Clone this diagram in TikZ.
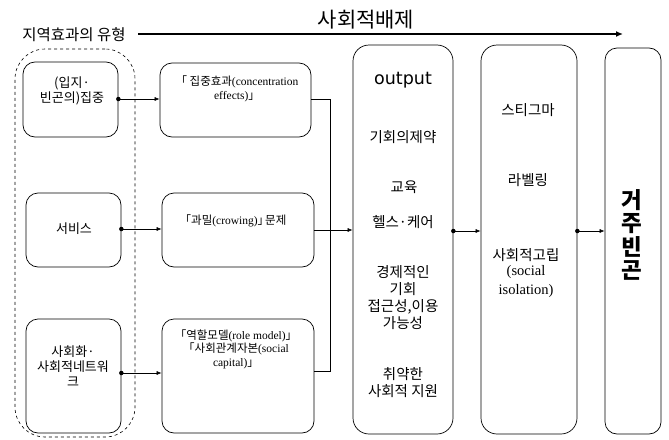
\documentclass[tikz,border=0pt]{standalone}
\usepackage{fontspec}
\setmainfont{Noto Sans CJK KR}
\newfontfamily\serfont{Liberation Serif}
\newfontfamily\outfont{DejaVu Sans}
\usetikzlibrary{arrows.meta}
\newcommand{\se}[1]{{\serfont #1}}
\begin{document}
\begin{tikzpicture}[x=1pt,y=-1pt,
  box/.style={draw,line width=0.7pt,rounded corners=12pt,inner sep=0pt},
  tallbox/.style={draw,line width=0.7pt,rounded corners=16pt,inner sep=0pt},
  lbl/.style={inner sep=0pt,align=center,font=\fontsize{13}{15}\selectfont},
  mlbl/.style={inner sep=0pt,align=center,font=\fontsize{11.5}{13.5}\selectfont},
  blbl/.style={inner sep=0pt,align=center,font=\fontsize{14.5}{17}\selectfont},
  conn/.style={line width=0.6pt},
  arr/.style={line width=0.6pt,-{Latex[length=5pt,width=4pt]}},
  dot/.style={circle,fill,inner sep=0pt,minimum size=4.5pt}
]
\useasboundingbox (0,0) rectangle (669,439);
\fill[white] (0,0) rectangle (669,439);

% top
\node[inner sep=0pt,font=\fontsize{15.5}{17}\selectfont] (typ) at (74,35) {지역효과의 유형};
\node[inner sep=0pt,font=\fontsize{21}{23}\selectfont] (excl) at (366,20) {사회적배제};
\coordinate (tend) at (623,34);
\draw[line width=1.8pt,-{Latex[length=7pt,width=6pt]}] (138,34) coordinate (tstart) -- (tend);

% dashed container
\node[draw,dashed,line width=0.6pt,rounded corners=30pt,minimum width=120pt,minimum height=388pt] (cont) at (75,243) {};

% left boxes
\node[box,minimum width=95pt,minimum height=75pt] (b1) at (70.5,99.5) {};
\node[box,minimum width=95pt,minimum height=74pt] (b2) at (73.5,230) {};
\node[box,minimum width=95pt,minimum height=114pt] (b3) at (73.5,376) {};
\node[lbl] (t1) at (72,91) {(입지·\\빈곤의)집중};
\node[lbl] (t2) at (74,229) {서비스};
\node[lbl] (t3) at (73,366) {사회화·\\사회적네트워\\크};

% middle boxes
\node[box,minimum width=151pt,minimum height=74pt] (m1) at (235.5,100) {};
\node[box,minimum width=152pt,minimum height=74pt] (m2) at (238,230) {};
\node[box,minimum width=152pt,minimum height=114pt] (m3) at (238,376) {};
\node[mlbl] (u1) at (237,89) {「 집중효과\se{(concentration}\\\se{effects)}」};
\node[mlbl] (u2) at (233,221) {「과밀\se{(crowing)}」\hspace{-4pt}문제};
\node[mlbl] (u3) at (236,349) {「역할모델\se{(role model)}」\\「사회관계자본\se{(social}\\\se{capital)}」};

% tall boxes
\node[tallbox,minimum width=100pt,minimum height=389pt] (o) at (403,239.5) {};
\node[tallbox,minimum width=96pt,minimum height=389pt] (s) at (529,239.5) {};
\node[tallbox,rounded corners=12pt,minimum width=56pt,minimum height=386pt] (g) at (633,241) {};

\node[inner sep=0pt,font=\outfont\fontsize{17.5}{19}\selectfont] (ot) at (403,80) {output};
\node[blbl] (o1) at (403,137) {기회의제약};
\node[blbl] (o2) at (404,187) {교육};
\node[blbl] (o3) at (403,222) {헬스·케어};
\node[blbl] (o4) at (403,298) {경제적인\\기회\\접근성,이용\\가능성};
\node[blbl] (o5) at (403,383) {취약한\\사회적 지원};

\node[blbl] (s1) at (528,110) {스티그마};
\node[blbl] (s2) at (528,180) {라벨링};
\node[blbl] (s3) at (526,255) {사회적고립};
\node[inner sep=0pt,align=center,font=\serfont\fontsize{14.5}{19}\selectfont] (s4) at (526,282) {(social\\isolation)};

\node[inner sep=0pt,align=center,font=\fontsize{22.5}{23.5}\selectfont\bfseries] (gt) at (632,235) {거\\주\\빈\\곤};

% connectors left -> middle
\node[dot] (d1) at (b1.east |- 0,99) {};
\node[dot] (d2) at (b2.east |- 0,229) {};
\node[dot] (d3) at (b3.east |- 0,373) {};
\draw[arr] (d1.center) -- (m1.west |- d1);
\draw[arr] (d2.center) -- (m2.west |- d2);
\draw[arr] (d3.center) -- (m3.west |- d3);

% middle -> output
\coordinate (j1) at (330,99);
\coordinate (j2) at (330,230);
\coordinate (j3) at (330,371);
\draw[conn] (m1.east |- j1) -- (j1) -- (j3) -- (m3.east |- j3);
\draw[conn] (m2.east |- j2) -- (j2);
\draw[arr] (j2) -- (o.west |- j2);

% output -> s -> g
\node[dot] (d4) at (o.east |- 0,231) {};
\node[dot] (d5) at (s.east |- 0,231) {};
\draw[arr] (d4.center) -- (s.west |- d4);
\draw[arr] (d5.center) -- (g.west |- d5);
\end{tikzpicture}
\end{document}
